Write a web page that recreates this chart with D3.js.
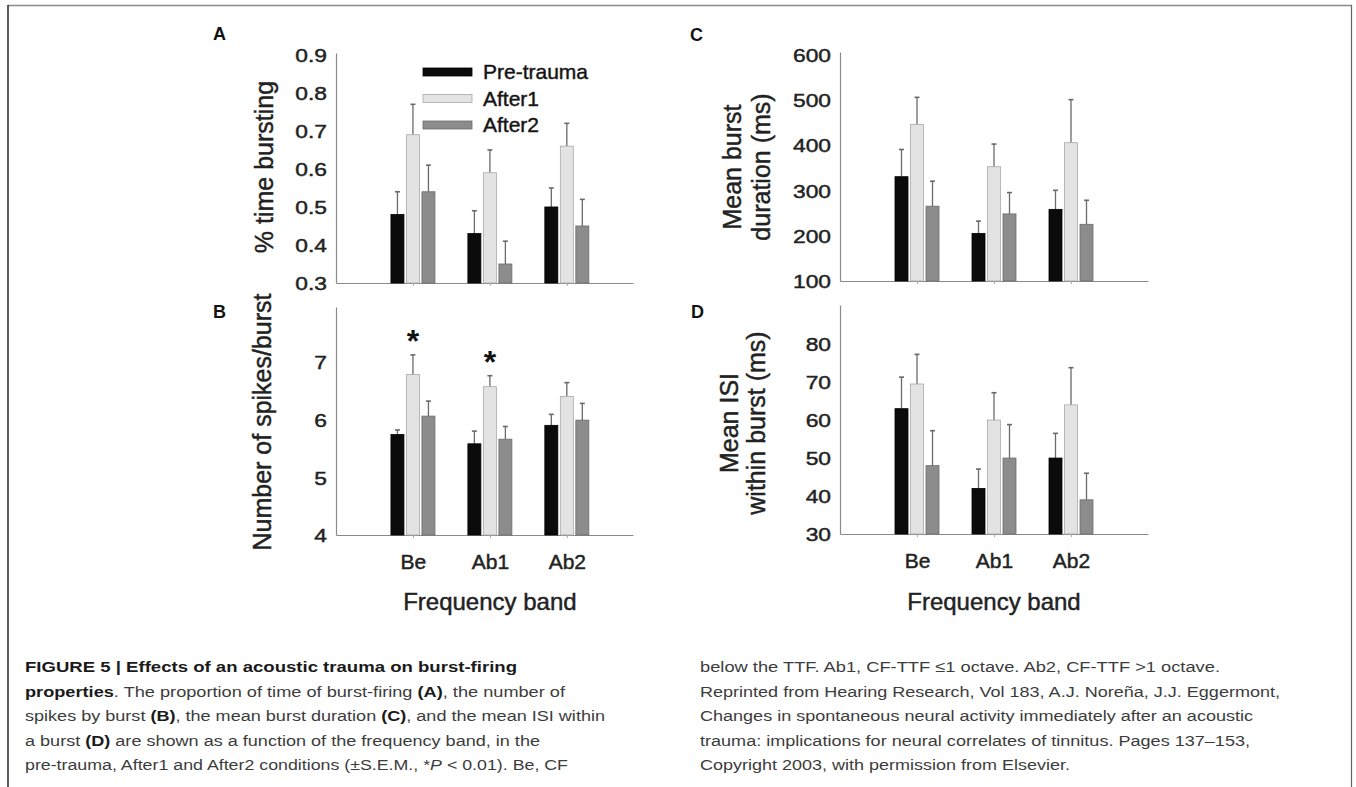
<!DOCTYPE html>
<html>
<head>
<meta charset="utf-8">
<script src="https://cdn.jsdelivr.net/npm/d3@7"></script>
<style>
body { margin: 0; background: #fff; }
text { font-family: "Liberation Sans", Arial, sans-serif; }
.heavy { stroke: #222; stroke-width: 0.45px; }
</style>
</head>
<body>
<svg id="fig" width="1356" height="787"></svg>
<script>
// frequency bands and recording conditions
var bands = ["Be", "Ab1", "Ab2"];
var conditions = ["Pre-trauma", "After1", "After2"];

// one row per condition, values in band order
var timeBursting    = [[0.48, 0.43, 0.50], [0.69, 0.59, 0.66], [0.54, 0.35, 0.45]];
var timeBurstingSem = [[0.06, 0.06, 0.05], [0.08, 0.06, 0.06], [0.07, 0.06, 0.07]];

var spikesPerBurst    = [[5.74, 5.58, 5.90], [6.78, 6.57, 6.40], [6.06, 5.66, 5.99]];
var spikesPerBurstSem = [[0.08, 0.22, 0.19], [0.34, 0.19, 0.24], [0.26, 0.22, 0.29]];

var burstDuration    = [[330, 205, 258], [445, 352, 405], [265, 248, 225]];
var burstDurationSem = [[60, 27, 42], [60, 50, 95], [55, 47, 53]];

var isiWithin    = [[63, 42, 50], [69.5, 60, 64], [48, 50, 39]];
var isiWithinSem = [[8.3, 5.1, 6.5], [7.8, 7.2, 9.8], [9.2, 8.8, 7]];

// tick labels on the y axes
var ticksA = [0.3, 0.4, 0.5, 0.6, 0.7, 0.8, 0.9];
var ticksB = [4, 5, 6, 7];
var ticksC = [100, 200, 300, 400, 500, 600];
var ticksD = [30, 40, 50, 60, 70, 80];

// significance stars: [condition, band]
var starsB = [[1, 0], [1, 1]];

var barFill   = ["#0b0b0b", "#e3e3e3", "#8c8c8c"];
var barStroke = ["#000", "#a9a9a9", "#6c6c6c"];
var barOffset = [-15.5, 0, 15.5];
var barWidth = 13;

var svg = d3.select("#fig");

svg.append("rect").attr("width", 1356).attr("height", 787).attr("fill", "#fff");

// figure frame (open at the bottom)
svg.append("line").attr("x1", 8).attr("x2", 1352).attr("y1", 5.5).attr("y2", 5.5)
    .attr("stroke", "#8a8a8a").attr("stroke-width", 1.5);
svg.append("line").attr("x1", 8).attr("x2", 8).attr("y1", 5).attr("y2", 787)
    .attr("stroke", "#333").attr("stroke-width", 1.6);
svg.append("line").attr("x1", 1351.5).attr("x2", 1351.5).attr("y1", 5).attr("y2", 787)
    .attr("stroke", "#666").attr("stroke-width", 1.2);

var panels = [
    {letter: "A", values: timeBursting, sem: timeBurstingSem, ticks: ticksA, fmt: d3.format(".1f"),
     yDomain: [0.3, 0.905], yRange: [283, 53], xRange: [336, 633], xMax: 3.86,
     letterAt: [213, 40], titles: [["% time bursting", 265]], titleY: 167, bandLabels: false, legend: true},
    {letter: "B", values: spikesPerBurst, sem: spikesPerBurstSem, ticks: ticksB, fmt: d3.format("d"),
     yDomain: [4, 7.95], yRange: [535, 307], xRange: [336, 633], xMax: 3.86,
     letterAt: [213, 318], titles: [["Number of spikes/burst", 263]], titleY: 422, bandLabels: true, stars: starsB},
    {letter: "C", values: burstDuration, sem: burstDurationSem, ticks: ticksC, fmt: d3.format("d"),
     yDomain: [100, 605], yRange: [281, 52], xRange: [840, 1148], xMax: 4,
     letterAt: [690, 41], titles: [["Mean burst", 733], ["duration (ms)", 762]], titleY: 167, bandLabels: false},
    {letter: "D", values: isiWithin, sem: isiWithinSem, ticks: ticksD, fmt: d3.format("d"),
     yDomain: [30, 90.3], yRange: [534, 305], xRange: [840, 1148], xMax: 4,
     letterAt: [691, 318], titles: [["Mean ISI", 730], ["within burst (ms)", 757]], titleY: 423, bandLabels: true}
];

panels.forEach(function(p) {
    var x = d3.scaleLinear().domain([0, p.xMax]).range(p.xRange);
    var y = d3.scaleLinear().domain(p.yDomain).range(p.yRange);
    var g = svg.append("g");

    // panel letter
    g.append("text")
        .attr("x", p.letterAt[0]).attr("y", p.letterAt[1])
        .attr("font-size", 18).attr("font-weight", "bold").attr("fill", "#111")
        .text(p.letter);

    // y axis
    var yAxis = d3.axisLeft(y).tickValues(p.ticks).tickFormat(p.fmt).tickSize(0).tickSizeOuter(0);
    var yg = g.append("g")
        .attr("transform", "translate(" + p.xRange[0] + ",0)")
        .call(yAxis);
    yg.select(".domain").attr("stroke", "#8a8a8a").attr("stroke-width", 1.2);
    yg.selectAll("text")
        .attr("class", "heavy")
        .attr("font-size", 19).attr("fill", "#222").attr("font-family", "Liberation Sans, Arial, sans-serif")
        .attr("x", -9 / 1.2).attr("dy", "0.36em")
        .attr("transform", "scale(1.2,1)");

    // x axis
    var xAxis = d3.axisBottom(x).tickValues([1, 2, 3])
        .tickFormat(function(d) { return p.bandLabels ? bands[d - 1] : ""; })
        .tickSize(3).tickSizeOuter(0);
    var xg = g.append("g")
        .attr("transform", "translate(0," + p.yRange[0] + ")")
        .call(xAxis);
    xg.select(".domain").attr("stroke", "#8a8a8a").attr("stroke-width", 1.2);
    xg.selectAll(".tick line").attr("stroke", "#aaa");
    xg.selectAll("text")
        .attr("class", "heavy")
        .attr("font-size", 21).attr("fill", "#222").attr("font-family", "Liberation Sans, Arial, sans-serif")
        .attr("y", 34).attr("dy", 0);

    if (p.bandLabels) {
        g.append("text")
            .attr("class", "heavy")
            .attr("x", x(2)).attr("y", 610)
            .attr("text-anchor", "middle")
            .attr("font-size", 24).attr("fill", "#222")
            .text("Frequency band");
    }

    // y title, one or two rotated lines
    p.titles.forEach(function(t) {
        g.append("text")
            .attr("class", "heavy")
            .attr("transform", "translate(" + t[1] + "," + p.titleY + ") rotate(-90)")
            .attr("text-anchor", "middle").attr("dy", "0.3em")
            .attr("font-size", 25).attr("fill", "#222")
            .text(t[0]);
    });

    // bars and error bars
    p.values.forEach(function(row, ci) {
        var bars = g.append("g");
        row.forEach(function(v, bi) {
            var cx = x(bi + 1) + barOffset[ci];
            var top = y(v + p.sem[ci][bi]);
            bars.append("line")
                .attr("x1", cx).attr("x2", cx).attr("y1", y(v)).attr("y2", top)
                .attr("stroke", "#6a6a6a").attr("stroke-width", 1.3);
            bars.append("line")
                .attr("x1", cx - 2.5).attr("x2", cx + 2.5).attr("y1", top).attr("y2", top)
                .attr("stroke", "#6a6a6a").attr("stroke-width", 1.6);
            bars.append("rect")
                .attr("x", cx - barWidth / 2).attr("width", barWidth)
                .attr("y", y(v)).attr("height", y(p.yDomain[0]) - y(v))
                .attr("fill", barFill[ci]).attr("stroke", barStroke[ci]).attr("stroke-width", 0.8);
        });
    });

    if (p.stars) {
        p.stars.forEach(function(s) {
            var ci = s[0], bi = s[1];
            var cx = x(bi + 1) + barOffset[ci];
            g.append("text")
                .attr("x", cx).attr("y", y(p.values[ci][bi] + p.sem[ci][bi]) - 3)
                .attr("text-anchor", "middle")
                .attr("font-size", 32).attr("font-weight", "bold").attr("fill", "#111")
                .text("*");
        });
    }

    if (p.legend) {
        conditions.forEach(function(c, ci) {
            var ly = 72 + ci * 26.5;
            g.append("rect")
                .attr("x", 423).attr("y", ly - 4).attr("width", 49).attr("height", 8)
                .attr("fill", barFill[ci]).attr("stroke", barStroke[ci]).attr("stroke-width", 0.8);
            g.append("text")
                .attr("class", "heavy")
                .attr("x", 483).attr("y", ly + 7)
                .attr("font-size", 21).attr("fill", "#111")
                .text(c);
        });
    }
});

// caption: [text, style] segments per line
var captionLeft = [
    [["FIGURE 5 | Effects of an acoustic trauma on burst-firing", "b"]],
    [["properties", "b"], [". The proportion of time of burst-firing ", ""], ["(A)", "b"], [", the number of", ""]],
    [["spikes by burst ", ""], ["(B)", "b"], [", the mean burst duration ", ""], ["(C)", "b"], [", and the mean ISI within", ""]],
    [["a burst ", ""], ["(D)", "b"], [" are shown as a function of the frequency band, in the", ""]],
    [["pre-trauma, After1 and After2 conditions (\u00b1S.E.M., *", ""], ["P", "i"], [" < 0.01). Be, CF", ""]]
];
var captionRight = [
    [["below the TTF. Ab1, CF-TTF \u22641 octave. Ab2, CF-TTF >1 octave.", ""]],
    [["Reprinted from Hearing Research, Vol 183, A.J. Nore\u00f1a, J.J. Eggermont,", ""]],
    [["Changes in spontaneous neural activity immediately after an acoustic", ""]],
    [["trauma: implications for neural correlates of tinnitus. Pages 137\u2013153,", ""]],
    [["Copyright 2003, with permission from Elsevier.", ""]]
];
var leftWidths = [492, 540, 580, 515, 543];
var rightWidths = [520, 580, 553, 550, 370];

function drawCaption(lines, widths, x0) {
    lines.forEach(function(line, i) {
        var t = svg.append("text")
            .attr("x", x0).attr("y", 672 + i * 24.5)
            .attr("font-size", 15.5).attr("fill", "#3c3c3c")
            .style("white-space", "pre")
            .attr("textLength", widths[i]).attr("lengthAdjust", "spacingAndGlyphs");
        line.forEach(function(seg) {
            t.append("tspan")
                .attr("font-weight", seg[1] == "b" ? "bold" : "normal")
                .attr("font-style", seg[1] == "i" ? "italic" : "normal")
                .attr("fill", seg[1] == "b" ? "#1a1a1a" : "#3c3c3c")
                .text(seg[0]);
        });
    });
}
drawCaption(captionLeft, leftWidths, 25);
drawCaption(captionRight, rightWidths, 700);
</script>
</body>
</html>
